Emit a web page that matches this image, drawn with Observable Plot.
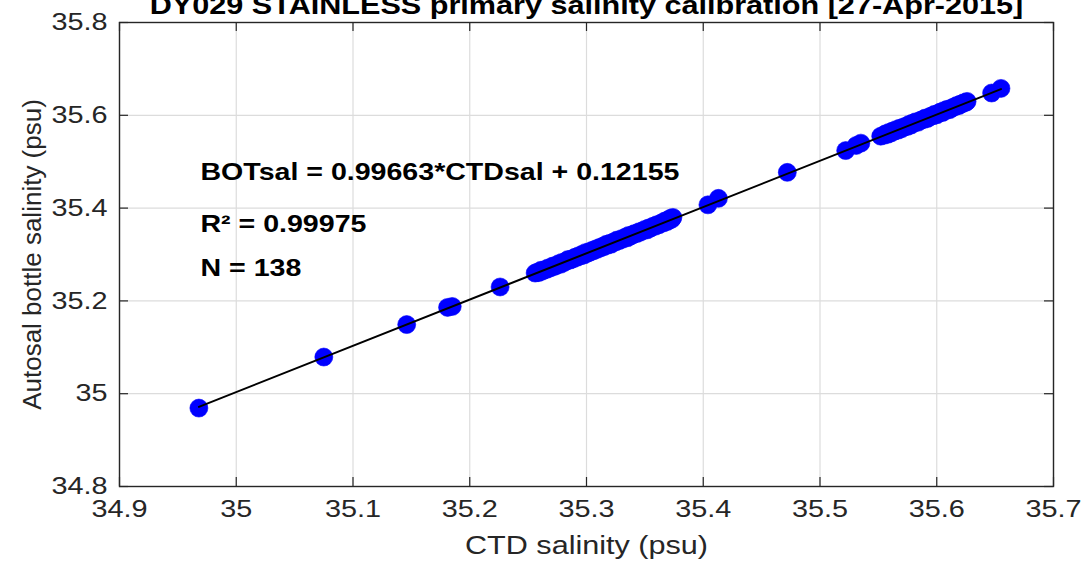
<!DOCTYPE html>
<html><head><meta charset="utf-8">
<script src="https://cdn.jsdelivr.net/npm/d3@7"></script>
<script src="https://cdn.jsdelivr.net/npm/@observablehq/plot@0.6"></script>
<style>
html,body{margin:0;padding:0;background:#fff;overflow:hidden}
#chart{width:1084px;height:574px;overflow:hidden}
</style></head><body><div id="chart"></div>
<script>
const ctdSal = [34.968, 35.075, 35.146, 35.181, 35.185, 35.226,
 35.256, 35.258, 35.259, 35.261, 35.262, 35.264, 35.266, 35.267, 35.269, 35.271,
 35.272, 35.274, 35.276, 35.278, 35.279, 35.281, 35.283, 35.284, 35.286, 35.287,
 35.289, 35.290, 35.292, 35.293, 35.295, 35.296, 35.298, 35.299, 35.301, 35.302,
 35.303, 35.305, 35.306, 35.308, 35.309, 35.311, 35.312, 35.314, 35.315, 35.317,
 35.318, 35.320, 35.321, 35.323, 35.325, 35.326, 35.328, 35.330, 35.331, 35.333,
 35.335, 35.336, 35.338, 35.340, 35.341, 35.343, 35.345, 35.346, 35.348, 35.350,
 35.352, 35.353, 35.355, 35.357, 35.359, 35.360, 35.362, 35.364, 35.366, 35.367,
 35.369, 35.370, 35.371, 35.372, 35.373, 35.374,
 35.404, 35.413, 35.472, 35.522, 35.531, 35.535,
 35.552, 35.555, 35.556, 35.558, 35.559, 35.561, 35.562, 35.564, 35.565, 35.567,
 35.568, 35.570, 35.571, 35.573, 35.575, 35.576, 35.578, 35.579, 35.581, 35.582,
 35.584, 35.586, 35.587, 35.589, 35.590, 35.592, 35.594, 35.595, 35.597, 35.598,
 35.600, 35.602, 35.603, 35.605, 35.606, 35.608, 35.609, 35.611, 35.613, 35.614,
 35.616, 35.617, 35.619, 35.620, 35.622, 35.623, 35.625, 35.626,
 35.647, 35.655];
const botSal = [34.969, 35.079, 35.149, 35.186, 35.188, 35.230,
 35.260, 35.262, 35.261, 35.266, 35.264, 35.267, 35.268, 35.271, 35.271, 35.275,
 35.274, 35.276, 35.280, 35.279, 35.283, 35.283, 35.286, 35.289, 35.288, 35.290,
 35.291, 35.294, 35.294, 35.297, 35.297, 35.300, 35.299, 35.304, 35.303, 35.306,
 35.305, 35.309, 35.308, 35.312, 35.311, 35.315, 35.314, 35.318, 35.317, 35.322,
 35.320, 35.324, 35.322, 35.327, 35.327, 35.331, 35.330, 35.334, 35.333, 35.337,
 35.336, 35.341, 35.340, 35.343, 35.345, 35.345, 35.349, 35.348, 35.351, 35.354,
 35.353, 35.357, 35.357, 35.361, 35.361, 35.364, 35.364, 35.368, 35.368, 35.372,
 35.371, 35.375, 35.374, 35.378, 35.376, 35.380,
 35.407, 35.421, 35.477, 35.524, 35.535, 35.540,
 35.555, 35.557, 35.560, 35.559, 35.563, 35.562, 35.566, 35.566, 35.569, 35.568,
 35.572, 35.571, 35.574, 35.576, 35.576, 35.580, 35.579, 35.583, 35.584, 35.586,
 35.585, 35.589, 35.590, 35.591, 35.594, 35.593, 35.597, 35.598, 35.599, 35.602,
 35.601, 35.605, 35.607, 35.606, 35.610, 35.611, 35.613, 35.612, 35.616, 35.617,
 35.619, 35.621, 35.621, 35.624, 35.625, 35.627, 35.628, 35.630,
 35.648, 35.658];
const xTicks = [34.9, 35, 35.1, 35.2, 35.3, 35.4, 35.5, 35.6, 35.7];
const xTickLabels = ["34.9", "35", "35.1", "35.2", "35.3", "35.4", "35.5", "35.6", "35.7"];
const yTicks = [34.8, 35, 35.2, 35.4, 35.6, 35.8];
const yTickLabels = ["34.8", "35", "35.2", "35.4", "35.6", "35.8"];
const fitSlope = 0.99663;
const fitIntercept = 0.12155;
const titleText = "DY029 STAINLESS primary salinity calibration [27-Apr-2015]";
const xLabel = "CTD salinity (psu)";
const yLabel = "Autosal bottle salinity (psu)";
const annotationLines = ["BOTsal = 0.99663*CTDsal + 0.12155", "R² = 0.99975", "N = 138"];

const W = 1084, H = 574, mL = 119, mR = 31, mT = 22, mB = 88;
const plotW = W - mL - mR, plotH = H - mT - mB;
const TICK = 9;
const ink = "#262626";
const points = ctdSal.map((x, i) => ({x, y: botSal[i]}));
const fitLine = d3.extent(ctdSal).map(x => ({x, y: fitSlope * x + fitIntercept}));
const annBase = [157, 209, 253];

const chart = Plot.plot({
  width: W, height: H,
  marginLeft: mL, marginRight: mR, marginTop: mT, marginBottom: mB,
  style: {fontFamily: "'Liberation Sans', Arial, sans-serif", fontSize: "24px", color: ink, background: "#fff"},
  x: {domain: [34.9, 35.7]},
  y: {domain: [34.8, 35.8]},
  marks: [
    Plot.ruleX(xTicks, {x: d => d, stroke: "#dcdcdc", strokeWidth: 1.2}),
    Plot.ruleY(yTicks, {y: d => d, stroke: "#dcdcdc", strokeWidth: 1.2}),
    Plot.ruleX(xTicks, {x: d => d, insetTop: plotH - TICK, stroke: ink, strokeWidth: 1.2}),
    Plot.ruleX(xTicks, {x: d => d, insetBottom: plotH - TICK, stroke: ink, strokeWidth: 1.2}),
    Plot.ruleY(yTicks, {y: d => d, insetRight: plotW - TICK, stroke: ink, strokeWidth: 1.2}),
    Plot.ruleY(yTicks, {y: d => d, insetLeft: plotW - TICK, stroke: ink, strokeWidth: 1.2}),
    Plot.frame({stroke: ink, strokeWidth: 1.4}),
    Plot.axisX(xTicks, {tickSize: 0, tickPadding: 13, tickFormat: d => xTickLabels[xTicks.indexOf(d)], label: null}),
    Plot.axisY(yTicks, {tickSize: 0, tickPadding: 12, tickFormat: d => yTickLabels[yTicks.indexOf(d)], label: null}),
    Plot.dot(points, {x: "x", y: "y", r: 9, fill: "#0000ff", stroke: "#0000ff", strokeWidth: 0.6}),
    Plot.line(fitLine, {x: "x", y: "y", stroke: "#000", strokeWidth: 2}),
    ...annotationLines.map((s, i) => Plot.text([s], {text: d => d, frameAnchor: "top-left", textAnchor: "start", lineAnchor: "bottom", dx: 81, dy: annBase[i], fontWeight: "bold", fontSize: 23.8, fill: "#000"})),
    Plot.text([titleText], {text: d => d, frameAnchor: "top", lineAnchor: "bottom", dy: -9, fontWeight: "bold", fontSize: 25.5, fill: "#000"}),
    Plot.text([xLabel], {text: d => d, frameAnchor: "bottom", dy: 67, fontSize: 25.5, fill: ink}),
    Plot.text([yLabel], {text: d => d, frameAnchor: "left", textAnchor: "middle", rotate: -90, dx: -87, fontSize: 26, fill: ink, className: "ylabel"})
  ]
});
document.getElementById("chart").append(chart);
const S = 1.2;
chart.querySelectorAll("text").forEach(t => {
  if (t.closest(".ylabel")) return;
  const len = t.getComputedTextLength();
  if (len > 0) {
    t.setAttribute("textLength", (len * S).toFixed(1));
    t.setAttribute("lengthAdjust", "spacingAndGlyphs");
  }
});
</script></body></html>
